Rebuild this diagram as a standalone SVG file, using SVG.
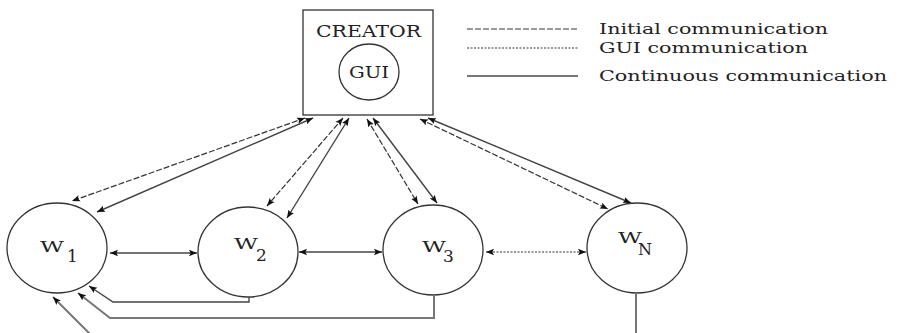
<svg xmlns="http://www.w3.org/2000/svg" width="898" height="333" viewBox="0 0 898 333">
<defs>
<marker id="ah" viewBox="0 0 10 10" refX="10" refY="5" markerWidth="8" markerHeight="8" markerUnits="userSpaceOnUse" orient="auto-start-reverse">
<path d="M0,1 L10,5 L0,9 L2,5 Z" fill="#111"/>
</marker>
</defs>
<style>
.node{fill:#fff;stroke:#333;stroke-width:1.3}
.t{font-family:"DejaVu Serif","Liberation Serif",serif;fill:#222}
.init{fill:none;stroke:#333;stroke-width:1.2;stroke-dasharray:6 2}
.gui{fill:none;stroke:#333;stroke-width:1.2;stroke-dasharray:2 1.5}
.cont{fill:none;stroke:#444;stroke-width:1.4}
.contg{fill:none;stroke:#777;stroke-width:2}
</style>
<rect width="898" height="333" fill="#fff"/>

<g id="legend">
<line class="init" x1="467" y1="29" x2="578" y2="29"/>
<line class="gui" x1="467" y1="48" x2="578" y2="48"/>
<line class="contg" x1="467" y1="76" x2="578" y2="76"/>
<text class="t" x="599" y="34" font-size="15" textLength="229" lengthAdjust="spacingAndGlyphs">Initial communication</text>
<text class="t" x="599" y="53" font-size="15" textLength="209" lengthAdjust="spacingAndGlyphs">GUI communication</text>
<text class="t" x="599" y="81" font-size="15" textLength="288" lengthAdjust="spacingAndGlyphs">Continuous communication</text>
</g>

<g id="creator">
<rect x="303" y="10" width="130" height="105" fill="#fff" stroke="#333" stroke-width="1.3"/>
<text class="t" x="316" y="37" font-size="16" textLength="105" lengthAdjust="spacingAndGlyphs">CREATOR</text>
</g>
<g id="gui">
<ellipse cx="369" cy="72" rx="30" ry="28" class="node"/>
<text class="t" x="349" y="78" font-size="16" textLength="40" lengthAdjust="spacingAndGlyphs">GUI</text>
</g>

<g id="w1">
<ellipse cx="57" cy="248" rx="50" ry="45" class="node"/>
<text class="t" x="40" y="252" font-size="15"><tspan textLength="24" lengthAdjust="spacingAndGlyphs">W</tspan><tspan x="67" y="262" font-size="17">1</tspan></text>
</g>
<g id="w2">
<ellipse cx="248" cy="252" rx="50" ry="45" class="node"/>
<text class="t" x="234" y="249" font-size="15"><tspan textLength="24" lengthAdjust="spacingAndGlyphs">W</tspan><tspan x="256" y="261" font-size="17">2</tspan></text>
</g>
<g id="w3">
<ellipse cx="433" cy="250" rx="50" ry="45" class="node"/>
<text class="t" x="422" y="252" font-size="15"><tspan textLength="24" lengthAdjust="spacingAndGlyphs">W</tspan><tspan x="443" y="262" font-size="17">3</tspan></text>
</g>
<g id="wn">
<ellipse cx="637" cy="248" rx="50" ry="45" class="node"/>
<text class="t" x="618" y="243" font-size="15"><tspan textLength="24" lengthAdjust="spacingAndGlyphs">W</tspan><tspan x="638" y="255" font-size="16">N</tspan></text>
</g>

<g id="connectors">
<line class="init" x1="305" y1="118" x2="72" y2="201" marker-start="url(#ah)" marker-end="url(#ah)"/>
<line class="cont" x1="313" y1="118" x2="97" y2="212" marker-start="url(#ah)" marker-end="url(#ah)"/>
<line class="init" x1="343" y1="118" x2="267" y2="206" marker-start="url(#ah)" marker-end="url(#ah)"/>
<line class="cont" x1="349" y1="118" x2="287" y2="218" marker-start="url(#ah)" marker-end="url(#ah)"/>
<line class="init" x1="367" y1="119" x2="418" y2="204" marker-start="url(#ah)" marker-end="url(#ah)"/>
<line class="cont" x1="373" y1="118" x2="437" y2="203" marker-start="url(#ah)" marker-end="url(#ah)"/>
<line class="init" x1="420" y1="119" x2="608" y2="209" marker-start="url(#ah)" marker-end="url(#ah)"/>
<line class="cont" x1="428" y1="118" x2="631" y2="203" marker-start="url(#ah)" marker-end="url(#ah)"/>
<line class="cont" x1="110" y1="253" x2="197" y2="253" marker-start="url(#ah)" marker-end="url(#ah)"/>
<line class="cont" x1="299" y1="252" x2="382" y2="252" marker-start="url(#ah)" marker-end="url(#ah)"/>
<line class="gui" x1="486" y1="252" x2="586" y2="252" marker-start="url(#ah)" marker-end="url(#ah)"/>
<polyline class="cont" points="249,297 249,302 113,302 89,286" marker-end="url(#ah)"/>
<polyline class="contg" points="434,295 434,318 110,318 78,293" marker-end="url(#ah)"/>
<polyline class="contg" points="636,293 636,345 101,345 53,297" marker-end="url(#ah)"/>
</g>
</svg>
